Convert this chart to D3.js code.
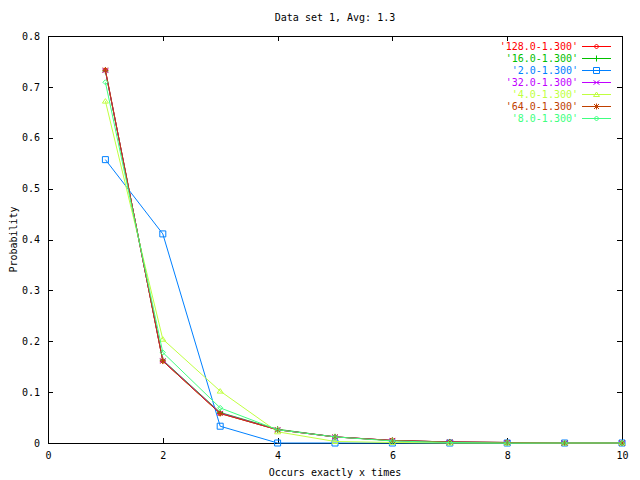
<!DOCTYPE html>
<html>
<head>
<meta charset="utf-8">
<script src="https://cdn.jsdelivr.net/npm/d3@7"></script>
<style>
  body { margin: 0; background: #fff; }
  text { font-family: "DejaVu Sans Mono", monospace; font-size: 10px; fill: #000; }
</style>
</head>
<body>
<div id="chart"></div>
<script>
// x values (occurrences)
var xs = [1, 2, 3, 4, 5, 6, 7, 8, 9, 10];

// series names as in the key
var seriesNames = ["'128.0-1.300'", "'16.0-1.300'", "'2.0-1.300'", "'32.0-1.300'", "'4.0-1.300'", "'64.0-1.300'", "'8.0-1.300'"];

// probabilities
var s128 = [0.733, 0.161, 0.058, 0.026, 0.012, 0.005, 0.002, 0.001, 0, 0];
var s16  = [0.731, 0.163, 0.060, 0.027, 0.012, 0.005, 0.002, 0.001, 0, 0];
var s2   = [0.557, 0.411, 0.033, 0, 0, 0, 0, 0, 0, 0];
var s32  = [0.732, 0.162, 0.059, 0.026, 0.012, 0.005, 0.002, 0.001, 0, 0];
var s4   = [0.672, 0.204, 0.102, 0.022, 0.003, 0.001, 0, 0, 0, 0];
var s64  = [0.733, 0.161, 0.058, 0.026, 0.012, 0.005, 0.002, 0.001, 0, 0];
var s8   = [0.709, 0.178, 0.069, 0.026, 0.012, 0.004, 0.001, 0, 0, 0];
var seriesValues = [s128, s16, s2, s32, s4, s64, s8];

var xTicks = [0, 2, 4, 6, 8, 10];
var yTicks = [0, 0.1, 0.2, 0.3, 0.4, 0.5, 0.6, 0.7, 0.8];

var colors = ["#ff0000", "#00c000", "#0080ff", "#c000ff", "#c0ff40", "#c04000", "#40ff80"];
var markers = ["diamond", "plus", "box", "cross", "triangle", "star", "diamond"];

var W = 640, H = 480;
var margin = {top: 36, right: 18, bottom: 37, left: 48};
var width = W - margin.left - margin.right,
    height = H - margin.top - margin.bottom;

var x = d3.scaleLinear().domain([0, 10]).range([0, width]);
var y = d3.scaleLinear().domain([0, 0.8]).range([height, 0]);

var svg = d3.select("#chart").append("svg")
    .attr("width", W)
    .attr("height", H);

var g = svg.append("g")
    .attr("transform", "translate(" + margin.left + "," + margin.top + ")");

// title and axis labels
svg.append("text")
    .attr("x", margin.left + width / 2)
    .attr("y", 21)
    .attr("text-anchor", "middle")
    .text("Data set 1, Avg: 1.3");

svg.append("text")
    .attr("x", margin.left + width / 2)
    .attr("y", 476)
    .attr("text-anchor", "middle")
    .text("Occurs exactly x times");

svg.append("text")
    .attr("transform", "translate(17," + (margin.top + height / 2) + ") rotate(-90)")
    .attr("text-anchor", "middle")
    .text("Probability");

// axes, ticks point inward and are mirrored
var tl = 5;
var xAxis = d3.axisBottom(x).tickValues(xTicks).tickSize(-tl).tickPadding(tl + 4).tickFormat(d3.format("d"));
var yAxis = d3.axisLeft(y).tickValues(yTicks).tickSize(-tl).tickPadding(tl + 3)
    .tickFormat(function(d) { return d === 0 ? "0" : d.toFixed(1); });

g.append("g").attr("class", "x axis")
    .attr("transform", "translate(0," + height + ")")
    .call(xAxis);
g.append("g").attr("class", "y axis")
    .call(yAxis);
g.append("g").attr("class", "x2 axis")
    .call(d3.axisTop(x).tickValues(xTicks).tickSize(-tl).tickFormat(""));
g.append("g").attr("class", "y2 axis")
    .attr("transform", "translate(" + width + ",0)")
    .call(d3.axisRight(y).tickValues(yTicks).tickSize(-tl).tickFormat(""));

g.selectAll(".axis .domain").remove();
g.selectAll(".axis line").attr("stroke", "#000").attr("shape-rendering", "crispEdges");
g.selectAll(".axis text").style("font-family", "DejaVu Sans Mono, monospace").style("font-size", "10px");

g.append("rect")
    .attr("x", 0.5).attr("y", 0.5)
    .attr("width", width).attr("height", height)
    .attr("fill", "none").attr("stroke", "#000")
    .attr("shape-rendering", "crispEdges");

// marker paths centred on 0,0
function markerPath(type) {
  switch (type) {
    case "diamond": return "M0,-2.5L2.5,0L0,2.5L-2.5,0Z";
    case "plus": return "M-3,0H3M0,-3V3";
    case "box": return "M-3,-3H3V3H-3Z";
    case "cross": return "M-3,-2L3,2M-3,2L3,-2";
    case "triangle": return "M0,-2.5L3,2H-3Z";
    case "star": return "M-3,0H3M0,-3V3M-2.5,-2.5L2.5,2.5M-2.5,2.5L2.5,-2.5";
  }
}

var line = d3.line()
    .x(function(d) { return x(d[0]); })
    .y(function(d) { return y(d[1]); });

var series = seriesNames.map(function(name, i) {
  return {name: name, color: colors[i], marker: markers[i],
          points: xs.map(function(v, j) { return [v, seriesValues[i][j]]; })};
});

var node = g.selectAll(".series")
    .data(series)
  .enter().append("g")
    .attr("class", "series");

node.append("path")
    .attr("d", function(d) { return line(d.points); })
    .attr("fill", "none")
    .attr("stroke", function(d) { return d.color; })
    .attr("stroke-width", 1);

node.selectAll(".pt")
    .data(function(d) { return d.points.map(function(p) { return {p: p, s: d}; }); })
  .enter().append("path")
    .attr("class", "pt")
    .attr("transform", function(d) { return "translate(" + x(d.p[0]) + "," + y(d.p[1]) + ")"; })
    .attr("d", function(d) { return markerPath(d.s.marker); })
    .attr("fill", "none")
    .attr("stroke", function(d) { return d.s.color; })
    .attr("stroke-width", 1);

// key, top right
var legend = svg.append("g").attr("class", "lineChartLegend");
var row = legend.selectAll(".row")
    .data(series)
  .enter().append("g")
    .attr("transform", function(d, i) { return "translate(0," + (46 + i * 12) + ")"; });

row.append("text")
    .attr("x", 578)
    .attr("y", 3.5)
    .attr("text-anchor", "end")
    .style("fill", function(d) { return d.color; })
    .text(function(d) { return d.name; });

row.append("line")
    .attr("x1", 582).attr("x2", 611)
    .attr("y1", 0.5).attr("y2", 0.5)
    .attr("stroke", function(d) { return d.color; });

row.append("path")
    .attr("transform", "translate(596.5,0.5)")
    .attr("d", function(d) { return markerPath(d.marker); })
    .attr("fill", "none")
    .attr("stroke", function(d) { return d.color; });
</script>
</body>
</html>
